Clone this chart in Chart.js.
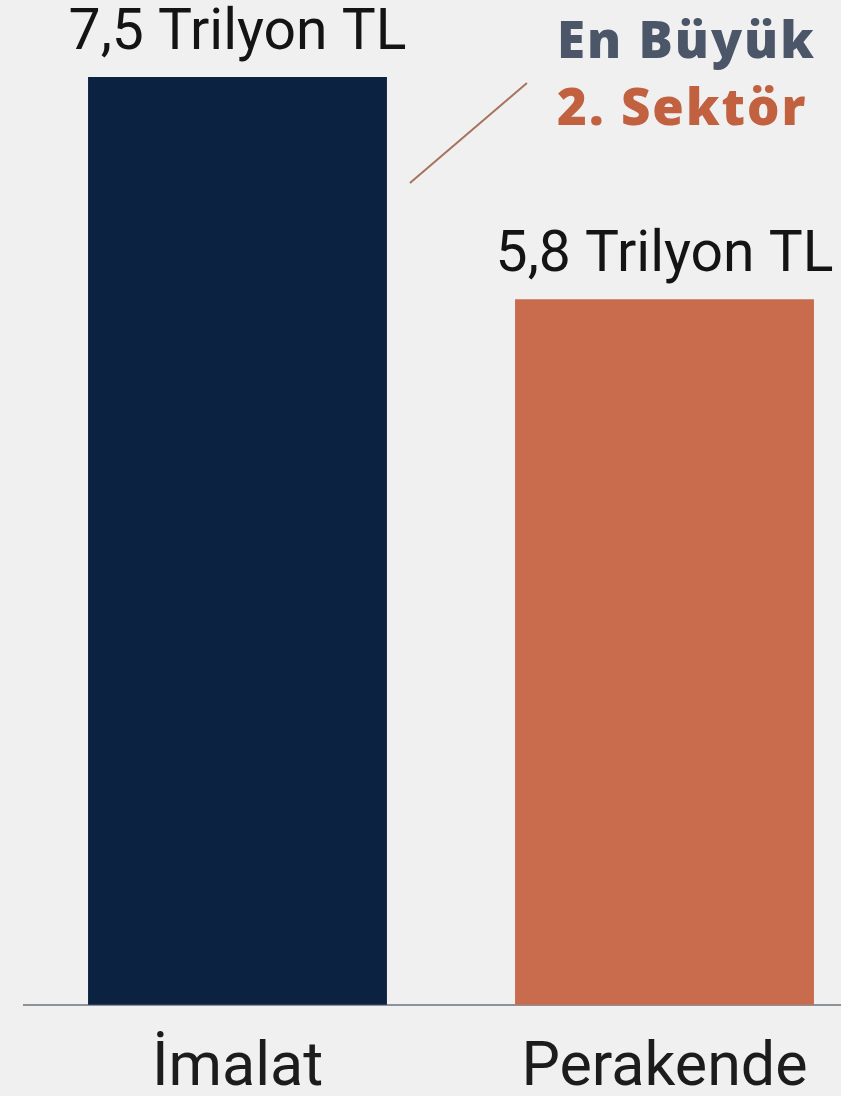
<!DOCTYPE html>
<html>
<head>
<meta charset="utf-8">
<script src="https://cdn.jsdelivr.net/npm/chart.js@4.4.1/dist/chart.umd.min.js"></script>
<style>
  html, body { margin: 0; padding: 0; background: #f0f0f1; overflow: hidden; width: 841px; height: 1096px; }
  #wrap { position: absolute; left: 0; top: 0; width: 900px; height: 1132px; }
</style>
</head>
<body>
<div id="wrap"><canvas id="c" width="900" height="1132"></canvas></div>
<script>
const categories = ['İmalat', 'Perakende'];
const values = [7.5, 5.8];
const valueLabels = ['7,5 Trilyon TL', '5,8 Trilyon TL'];
const barColors = ['#0b2241', '#c96c4e'];
const calloutLines = ['En Büyük', '2. Sektör'];
const calloutColors = ['#4b5669', '#c1613f'];

const labelPlugin = {
  id: 'labels',
  afterDatasetsDraw(chart) {
    const ctx = chart.ctx;
    const meta = chart.getDatasetMeta(0);
    ctx.save();
    ctx.fillStyle = '#141414';
    ctx.font = '57px Roboto';
    ctx.textAlign = 'center';
    ctx.textBaseline = 'alphabetic';
    meta.data.forEach((bar, i) => {
      ctx.fillText(valueLabels[i], bar.x, bar.y - 28);
    });
    // callout
    const b0 = meta.data[0];
    const b1 = meta.data[1];
    const x0 = b0.x + b0.width / 2 + 23;
    const y0 = b0.y + 106;
    ctx.strokeStyle = '#a7725c';
    ctx.lineWidth = 2;
    ctx.beginPath();
    ctx.moveTo(x0, y0);
    ctx.lineTo(x0 + 117, y0 - 100);
    ctx.stroke();
    ctx.textAlign = 'left';
    ctx.font = '800 51px "Open Sans"';
    ctx.letterSpacing = '2px';
    const tx = b1.x - b1.width / 2 + 42;
    ctx.fillStyle = calloutColors[0];
    ctx.fillText(calloutLines[0], tx, b0.y - 19);
    ctx.fillStyle = calloutColors[1];
    ctx.fillText(calloutLines[1], tx, b0.y + 48);
    ctx.restore();
  }
};

new Chart(document.getElementById('c'), {
  type: 'bar',
  data: {
    labels: categories,
    datasets: [{
      data: values,
      backgroundColor: barColors,
      borderWidth: 0,
      barPercentage: 0.7,
      categoryPercentage: 1.0
    }]
  },
  options: {
    responsive: false,
    animation: false,
    devicePixelRatio: 1,
    layout: { padding: { top: 77, left: 24, right: 22, bottom: 6 } },
    plugins: { legend: { display: false }, tooltip: { enabled: false } },
    scales: {
      x: {
        grid: { display: false },
        border: { display: true, color: '#8d9199', width: 2 },
        ticks: { color: '#1c1c1c', font: { family: 'Roboto', size: 61 }, padding: 20 }
      },
      y: {
        display: false,
        min: 0.4,
        max: 7.5
      }
    }
  },
  plugins: [labelPlugin]
});
</script>
</body>
</html>
